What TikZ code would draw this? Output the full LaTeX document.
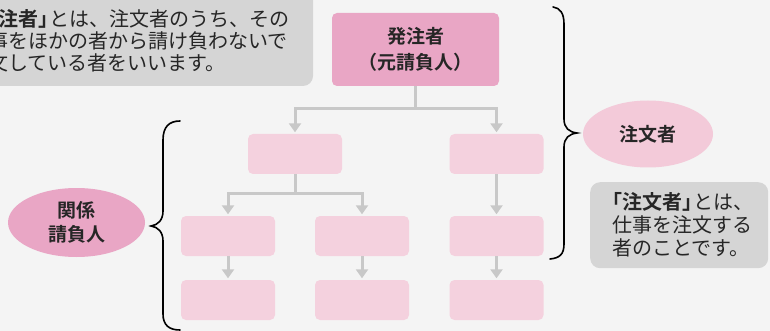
\documentclass[tikz,border=0pt]{standalone}
\usepackage{fontspec}
\setmainfont{Noto Sans CJK JP}[BoldFont={* Bold}]
\usetikzlibrary{arrows.meta,shapes.geometric}
\definecolor{bgc}{RGB}{244,244,244}
\definecolor{pinkD}{RGB}{233,166,197}
\definecolor{pinkL}{RGB}{244,209,222}
\definecolor{pinkE}{RGB}{243,202,217}
\definecolor{grayB}{RGB}{213,213,213}
\definecolor{connc}{RGB}{200,200,200}
\definecolor{txt}{RGB}{38,38,38}
\newcommand{\lbk}{\hspace*{-0.5em}「}
\newcommand{\rbk}{」\hspace{-0.45em}}
\tikzset{
  mainbox/.style={fill=pinkD, rounded corners=5pt, minimum width=167pt, minimum height=73pt, inner sep=0pt, align=center, text=txt, font=\bfseries\fontsize{19}{26}\selectfont},
  lightbox/.style={fill=pinkL, rounded corners=5pt, minimum width=94pt, minimum height=40pt, inner sep=0pt},
  cline/.style={draw=connc, line width=3pt},
  carr/.style={draw=connc, line width=3pt, -{Triangle[width=12pt,length=9pt]}, shorten >=1.5pt},
  bracec/.style={draw=black, line width=1.6pt, line cap=round},
  ellbig/.style={ellipse, inner sep=0pt, align=center, text=txt, font=\bfseries\fontsize{19}{24}\selectfont},
  notetext/.style={inner sep=0pt, align=left, text=txt, font=\fontsize{20}{22}\selectfont},
}
\begin{document}
\begin{tikzpicture}[x=1pt,y=-1pt]
\useasboundingbox (0,0) rectangle (770,331);
\clip (0,0) rectangle (770,331);
\fill[bgc] (0,0) rectangle (770,331);

% top-left note (cut off at the left edge, as in the reference)
\fill[grayB, rounded corners=10pt] (-40,-20) rectangle (313,86);
\node[notetext, anchor=west] (note1) at (-32,41)
  {\textbf{\lbk 発注者\rbk}とは、注文者のうち、その\\仕事をほかの者から請け負わないで\\注文している者をいいます。};

% boxes
\node[mainbox] (top) at (415.5,49.5) {発注者\\（元請負人）};
\node[lightbox] (l1a) at (295,154) {};
\node[lightbox] (l1b) at (496.5,154) {};
\node[lightbox] (l2a) at (228,236) {};
\node[lightbox] (l2b) at (362,236) {};
\node[lightbox] (l2c) at (496.5,236) {};
\node[lightbox] (l3a) at (228,300) {};
\node[lightbox] (l3b) at (362,300) {};
\node[lightbox] (l3c) at (496.5,300) {};

% connectors
\coordinate (j1) at (415.5,109);
\coordinate (j2) at (295,193);
\draw[cline] (top.south) -- (j1);
\draw[carr] (j1) -| (l1a.north);
\draw[carr] (j1) -| (l1b.north);
\draw[cline] (l1a.south) -- (j2);
\draw[carr] (j2) -| (l2a.north);
\draw[carr] (j2) -| (l2b.north);
\draw[carr] (l1b.south) -- (l2c.north);
\draw[carr] (l2a.south) -- (l3a.north);
\draw[carr] (l2b.south) -- (l3b.north);
\draw[carr] (l2c.south) -- (l3c.north);

% braces
\draw[bracec] (180,121) .. controls (169,121) and (163,127) .. (163,140) -- (163,211)
  .. controls (163,220) and (158,225) .. (151,226)
  .. controls (158,227) and (163,232) .. (163,241) -- (163,314)
  .. controls (163,325) and (169,330) .. (180,330);
\draw[bracec] (553,7) .. controls (560,8) and (564,13) .. (564,24) -- (564,119)
  .. controls (564,128) and (569,132) .. (577,133)
  .. controls (569,134) and (564,138) .. (564,147) -- (564,244)
  .. controls (564,254) and (560,258) .. (550,259);

% ellipses
\node[ellbig, fill=pinkD, minimum width=137pt, minimum height=69pt] (kankei) at (76.5,222.5) {関係\\請負人};
\node[ellbig, fill=pinkE, minimum width=130pt, minimum height=67pt] (chumon) at (648,134) {注文者};

% right note
\node[fill=grayB, rounded corners=10pt, minimum width=178pt, minimum height=86pt, anchor=north west] (note2box) at (590,182) {};
\node[notetext, anchor=west, font=\fontsize{20}{23}\selectfont] (note2) at (612,225)
  {\textbf{\lbk 注文者\rbk}とは、\\仕事を注文する\\者のことです。};
\end{tikzpicture}
\end{document}
